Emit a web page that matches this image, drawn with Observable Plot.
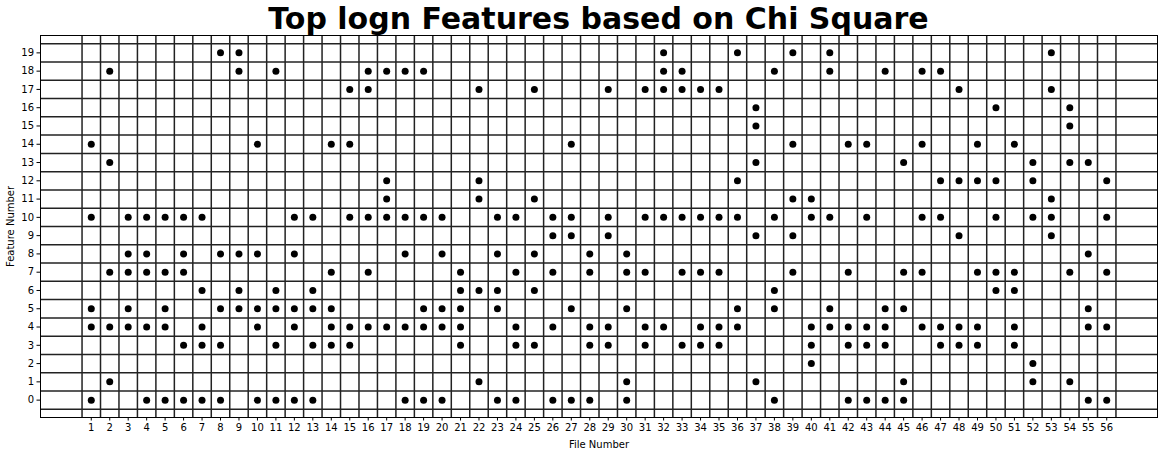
<!DOCTYPE html>
<html><head><meta charset="utf-8">
<script src="https://cdn.jsdelivr.net/npm/d3@7"></script>
<script src="https://cdn.jsdelivr.net/npm/@observablehq/plot@0.6"></script>
<style>
body{margin:0;background:#fff;font-family:"DejaVu Sans",sans-serif;}
#title{height:30px;padding:0 7px 0 40px;text-align:center;font-weight:bold;font-size:30px;line-height:38px;overflow:visible;white-space:nowrap;color:#000;}
#chart svg{display:block;}
</style></head>
<body>
<div id="title">Top logn Features based on Chi Square</div>
<div id="chart"></div>
<script>
const fileNumbers = [1,2,3,4,5,6,7,8,9,10,11,12,13,14,15,16,17,18,19,20,21,22,23,24,25,26,27,28,29,30,31,32,33,34,35,36,37,38,39,40,41,42,43,44,45,46,47,48,49,50,51,52,53,54,55,56];
const featureTicks = [0,1,2,3,4,5,6,7,8,9,10,11,12,13,14,15,16,17,18,19];
const featuresByFile = [
  [0,4,5,10,14],[1,4,7,13,18],[4,5,7,8,10],[0,4,7,8,10],[0,4,5,7,10],
  [0,3,7,8,10],[0,3,4,6,10],[0,3,5,8,19],[5,6,8,18,19],[0,4,5,8,14],
  [0,3,5,6,18],[0,4,5,8,10],[0,3,5,6,10],[3,4,5,7,14],[3,4,10,14,17],
  [4,7,10,17,18],[4,10,11,12,18],[0,4,8,10,18],[0,4,5,10,18],[0,4,5,8,10],
  [3,4,5,6,7],[1,6,11,12,17],[0,5,6,8,10],[0,3,4,7,10],[3,6,8,11,17],
  [0,4,7,9,10],[0,5,9,10,14],[0,3,4,7,8],[3,4,9,10,17],[0,1,5,7,8],
  [3,4,7,10,17],[4,10,17,18,19],[3,7,10,17,18],[3,4,7,10,17],[3,4,7,10,17],
  [4,5,10,12,19],[1,9,13,15,16],[0,5,6,10,18],[7,9,11,14,19],[2,3,4,10,11],
  [4,5,10,18,19],[0,3,4,7,14],[0,3,4,10,14],[0,3,4,5,18],[0,1,5,7,13],
  [4,7,10,14,18],[3,4,10,12,18],[3,4,9,12,17],[3,4,7,12,14],[6,7,10,12,16],
  [3,4,6,7,14],[1,2,10,12,13],[9,10,11,17,19],[1,7,13,15,16],[0,4,5,8,13],
  [0,4,7,10,12]
];
const points = fileNumbers.flatMap((f, i) => featuresByFile[i].map(v => ({file: f, feature: v})));

const chart = Plot.plot({
  width: 1164, height: 424,
  marginTop: 5, marginBottom: 37, marginLeft: 40, marginRight: 7,
  style: {fontFamily: "DejaVu Sans", fontSize: "10px", color: "black", background: "white"},
  x: {domain: [-1.75, 58.75]},
  y: {domain: [-0.95, 19.95]},
  marks: [
    Plot.ruleX(d3.range(0.5, 57, 1), {stroke: "#222", strokeWidth: 1.5}),
    Plot.ruleY(d3.range(-0.5, 20, 1), {stroke: "#222", strokeWidth: 1.5}),
    Plot.frame({stroke: "black", strokeWidth: 1}),
    Plot.dot(points, {x: "file", y: "feature", r: 3.5, fill: "black", stroke: "none"}),
    Plot.axisX({ticks: fileNumbers, tickFormat: d => String(d), tickSize: 3.5, tickPadding: 3, label: "File Number", labelAnchor: "center", labelArrow: "none", labelOffset: 30}),
    Plot.axisY({ticks: featureTicks, tickFormat: d => String(d), tickSize: 3.5, tickPadding: 3, label: "Feature Number", labelAnchor: "center", labelArrow: "none", labelOffset: 34})
  ]
});
document.getElementById("chart").appendChild(chart);
</script>
</body></html>
